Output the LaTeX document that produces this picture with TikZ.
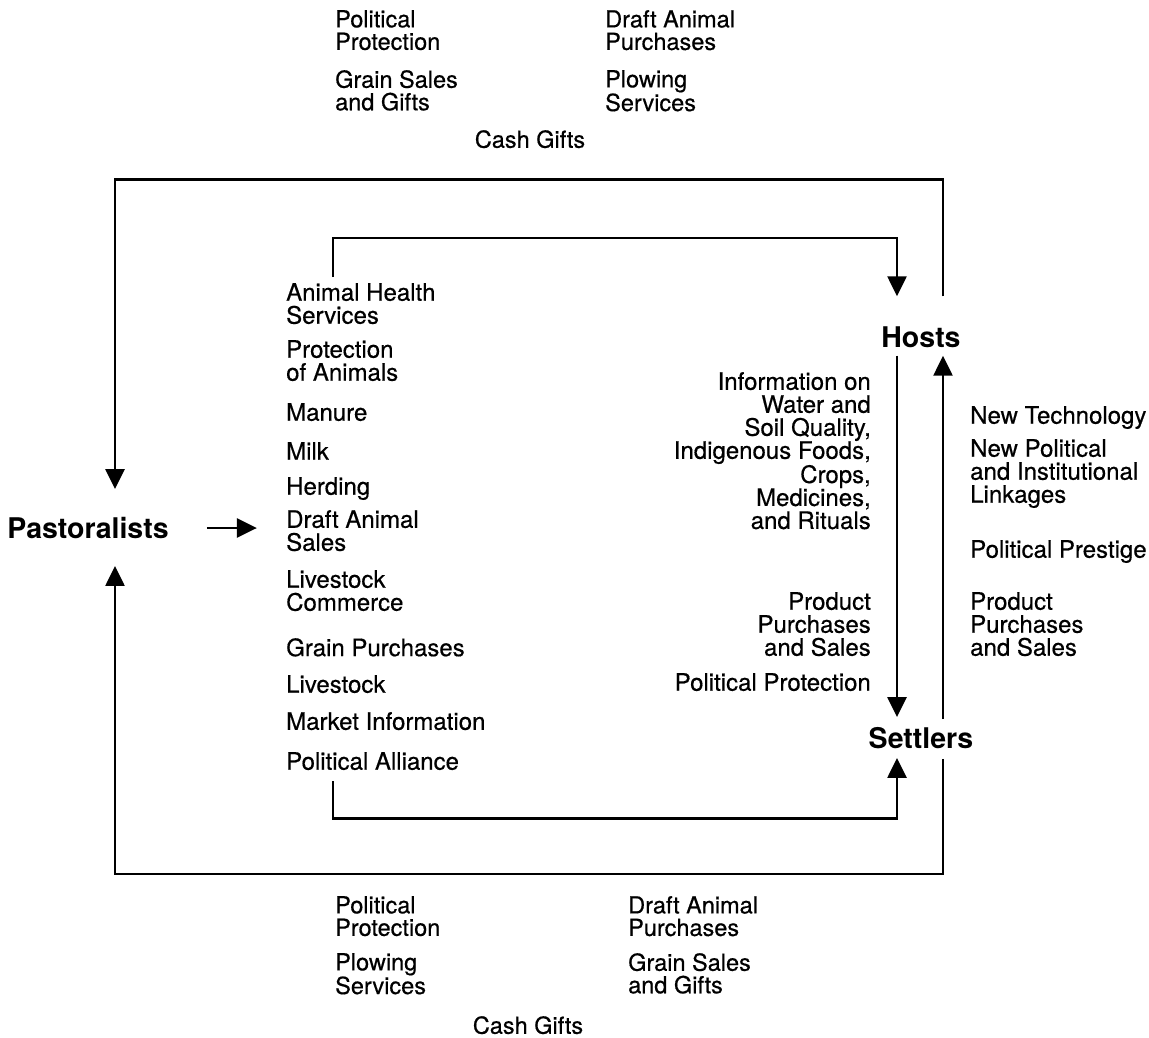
\documentclass[tikz,border=0pt]{standalone}
\usepackage{fontspec}
\setmainfont{TeX Gyre Heros}[UprightFeatures={FakeBold=0.5}]
\usetikzlibrary{arrows.meta,positioning}
\tikzset{
  flow/.style={-{Triangle[length=20pt,width=19pt]},line width=2.5pt},
  actor/.style={font=\fontsize{28.5}{30}\selectfont\bfseries,inner sep=0pt},
  item/.style={font=\fontsize{24}{23}\selectfont,inner sep=0pt,align=left,anchor=north west},
  ritem/.style={item,align=right,anchor=north east},
  gift/.style={font=\fontsize{23.5}{22.5}\selectfont,inner sep=0pt,align=left,anchor=north west}
}

\begin{document}
\begin{tikzpicture}[x=1pt,y=-1pt]
\useasboundingbox (0,0) rectangle (1149,1037);
% actors
\node[actor] (past) at (88,528) {Pastoralists};
\node[actor] (hosts) at (921,337) {Hosts};
\node[actor] (sett) at (921,738) {Settlers};
% hosts to pastoralists
\node[gift] (hpol) at (335,10) {Political\\Protection};
\node[gift] (hgrain) at (335,70) {Grain Sales\\and Gifts};
\node[gift] (hdraft) at (605,10) {Draft Animal\\Purchases};
\node[gift] (hplow) at (605,70) {Plowing\\Services};
\node[gift,anchor=north] (hcash) at (530,130) {Cash Gifts};
% settlers to pastoralists
\node[gift] (spol) at (335,896) {Political\\Protection};
\node[gift] (splow) at (335,953) {Plowing\\Services};
\node[gift] (sdraft) at (628,896) {Draft Animal\\Purchases};
\node[gift] (sgrain) at (628,953) {Grain Sales\\and Gifts};
\node[gift,anchor=north] (scash) at (528,1016) {Cash Gifts};
% pastoralists to hosts and settlers
\node[item] (animal) at (286,283) {Animal Health\\Services};
\node[item] (protect) at (286,340) {Protection\\of Animals};
\node[item] (manure) at (286,403) {Manure};
\node[item] (milk) at (286,442) {Milk};
\node[item] (herd) at (286,477) {Herding};
\node[item] (draft) at (286,510) {Draft Animal\\Sales};
\node[item] (stock) at (286,570) {Livestock\\Commerce};
\node[item] (grain) at (286,638) {Grain Purchases};
\node[item] (live) at (286,675) {Livestock};
\node[item] (market) at (286,712) {Market Information};
\node[item] (alliance) at (286,752) {Political Alliance};
% hosts to settlers
\node[ritem] (info) at (871,372) {Information on\\Water and\\Soil Quality,\\Indigenous Foods,\\Crops,\\Medicines,\\and Rituals};
\node[ritem] (hprod) at (871,592) {Product\\Purchases\\and Sales};
\node[ritem] (hprot) at (871,673) {Political Protection};
% settlers to hosts
\node[item] (tech) at (970,406) {New Technology};
\node[item] (link) at (970,439) {New Political\\and Institutional\\Linkages};
\node[item] (prestige) at (970,540) {Political Prestige};
\node[item] (sprod) at (970,592) {Product\\Purchases\\and Sales};
% loop ends
\coordinate (ho) at ([xshift=22pt,yshift=30pt]hosts.north);
\coordinate (hi) at ([xshift=-24pt,yshift=30pt]hosts.north);
\coordinate (so) at ([xshift=22pt,yshift=-10pt]sett.south);
\coordinate (si) at ([xshift=-24pt,yshift=-9pt]sett.south);
\coordinate (pt) at ([xshift=27pt,yshift=28pt]past.north);
\coordinate (pb) at ([xshift=27pt,yshift=-27pt]past.south);
\coordinate (lt) at ([xshift=47pt,yshift=6pt]animal.north west);
\coordinate (lb) at ([xshift=47pt,yshift=-11pt]alliance.south west);
% connectors
\draw[flow] (ho) -- ++(0,-117) -| (pt);
\draw[flow] (so) -- ++(0,115) -| (pb);
\draw[flow] (lt) -- ++(0,-39) -| (hi);
\draw[flow] (lb) -- ++(0,37) -| (si);
\draw[flow] ([xshift=38pt]past.east) -- ([xshift=88pt]past.east);
\draw[flow] ([xshift=-24pt,yshift=-8pt]hosts.south) -- ([xshift=-24pt,yshift=10pt]sett.north);
\draw[flow] ([xshift=22pt,yshift=8pt]sett.north) -- ([xshift=22pt,yshift=-8pt]hosts.south);
\end{tikzpicture}
\end{document}
